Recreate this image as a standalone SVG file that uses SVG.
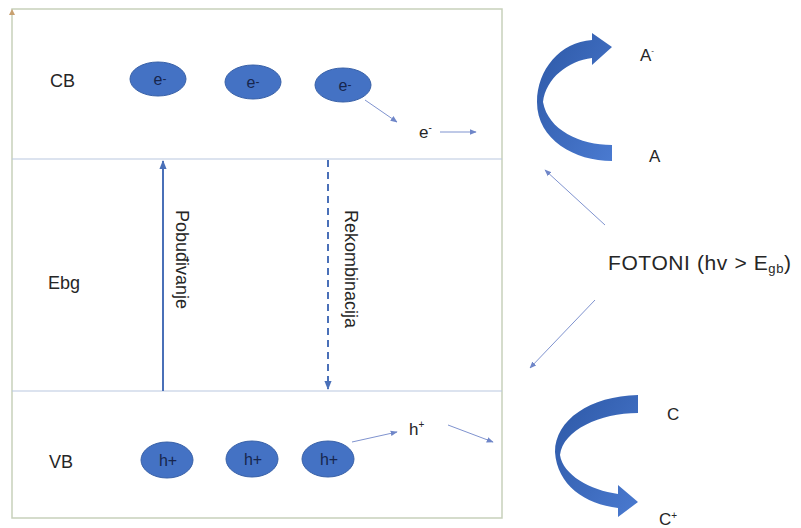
<svg xmlns="http://www.w3.org/2000/svg" width="801" height="528" viewBox="0 0 801 528">
<style>
text{font-family:"Liberation Sans",Arial,sans-serif;fill:#262626}
.lbl{font-size:18px}
.in{font-size:16px;fill:#17264d;text-anchor:middle}
.ell{fill:#4472c4;stroke:#3a62a8;stroke-width:1}
.band{stroke:#b9c7e0;stroke-width:1.2}
.thin{stroke:#7f93cf;stroke-width:1;fill:none}
.ribbon{fill:url(#g)}
</style>
<defs>
<linearGradient id="g" x1="0" y1="0" x2="1" y2="1">
<stop offset="0" stop-color="#2d58a6"/>
<stop offset="1" stop-color="#4a7ad0"/>
</linearGradient>
<marker id="ah" viewBox="0 0 10 10" refX="9" refY="5" markerWidth="7" markerHeight="7" markerUnits="userSpaceOnUse" orient="auto">
<path d="M0,1 L10,5 L0,9 Z" fill="#6f86c8"/>
</marker>
<marker id="ahb" viewBox="0 0 10 10" refX="9" refY="5" markerWidth="9" markerHeight="9" markerUnits="userSpaceOnUse" orient="auto">
<path d="M0,1 L10,5 L0,9 Z" fill="#4a70b8"/>
</marker>
</defs>
<rect width="801" height="528" fill="#ffffff"/>

<g id="frame">
<rect x="12" y="9" width="490" height="509" fill="none" stroke="#c7d1bb" stroke-width="1.5"/>
<path d="M9,15 L12,9 L15,15 Z" fill="#c8a070"/>
<line class="band" x1="12" y1="159" x2="502" y2="159"/>
<line class="band" x1="12" y1="391" x2="502" y2="391"/>
<text class="lbl" x="50" y="87">CB</text>
<text class="lbl" x="48" y="289">Ebg</text>
<text class="lbl" x="49" y="468">VB</text>
</g>

<g id="e1"><ellipse class="ell" cx="158" cy="79" rx="28" ry="17"/><text class="in" x="160" y="85">e<tspan font-size="12" dy="-2">-</tspan></text></g>
<g id="e2"><ellipse class="ell" cx="253" cy="82" rx="28" ry="17"/><text class="in" x="253" y="88">e<tspan font-size="12" dy="-2">-</tspan></text></g>
<g id="e3"><ellipse class="ell" cx="343" cy="85" rx="28" ry="17"/><text class="in" x="345" y="91">e<tspan font-size="12" dy="-2">-</tspan></text></g>
<g id="efree"><text x="419" y="138" style="font-size:17px">e<tspan font-size="10" dy="-7">-</tspan></text></g>

<g id="h1"><ellipse class="ell" cx="167" cy="460" rx="26" ry="18"/><text class="in" x="168" y="466">h+</text></g>
<g id="h2"><ellipse class="ell" cx="252" cy="459" rx="26" ry="18"/><text class="in" x="253" y="465">h+</text></g>
<g id="h3"><ellipse class="ell" cx="328" cy="459" rx="26" ry="18"/><text class="in" x="329" y="465">h+</text></g>
<g id="hfree"><text x="409" y="435" style="font-size:17px">h<tspan font-size="10" dy="-7">+</tspan></text></g>

<g id="arrA">
<path class="ribbon" d="M612,145 C580,145 548,130 543,102 C546,78 568,61 592,58 L592,65 L612,47 L592,33 L592,40 C560,42 537,70 537,102 C537,140 575,161 612,161 Z"/>
<text x="640" y="61" style="font-size:17px">A<tspan font-size="8" dy="-8">-</tspan></text>
<text x="649" y="162" style="font-size:17px">A</text>
</g>

<g id="arrC">
<path class="ribbon" d="M638,395 C590,396 555,420 555,452 C557,485 585,504 618,508 L618,517 L638,502 L618,485 L618,494 C590,490 563,475 560,455 C563,430 600,413 638,413 Z"/>
<text x="667" y="420" style="font-size:17px">C</text>
<text x="659" y="525" style="font-size:17px">C<tspan font-size="10" dy="-6">+</tspan></text>
</g>

<g id="fotoni">
<text x="608" y="270" style="font-size:21px;letter-spacing:0.6px">FOTONI (hv &gt; E<tspan font-size="13" dy="3">gb</tspan><tspan dy="-3">)</tspan></text>
</g>

<g id="vlabels">
<text class="lbl" transform="translate(176,210) rotate(90)">Pobuđivanje</text>
<text class="lbl" transform="translate(345,210) rotate(90)">Rekombinacija</text>
</g>

<g id="connectors">
<line x1="163" y1="391" x2="163" y2="161" stroke="#4a70b8" stroke-width="2" marker-end="url(#ahb)"/>
<line x1="328" y1="160" x2="328" y2="389" stroke="#4a70b8" stroke-width="2" stroke-dasharray="7,5" marker-end="url(#ahb)"/>
<line class="thin" x1="365" y1="100" x2="397" y2="122" marker-end="url(#ah)"/>
<line class="thin" x1="440" y1="132" x2="476" y2="132" marker-end="url(#ah)"/>
<line class="thin" x1="352" y1="442" x2="397" y2="432" marker-end="url(#ah)"/>
<line class="thin" x1="448" y1="425" x2="493" y2="442" marker-end="url(#ah)"/>
<line class="thin" x1="605" y1="225" x2="545" y2="170" marker-end="url(#ah)"/>
<line class="thin" x1="595" y1="300" x2="530" y2="368" marker-end="url(#ah)"/>
</g>
</svg>
